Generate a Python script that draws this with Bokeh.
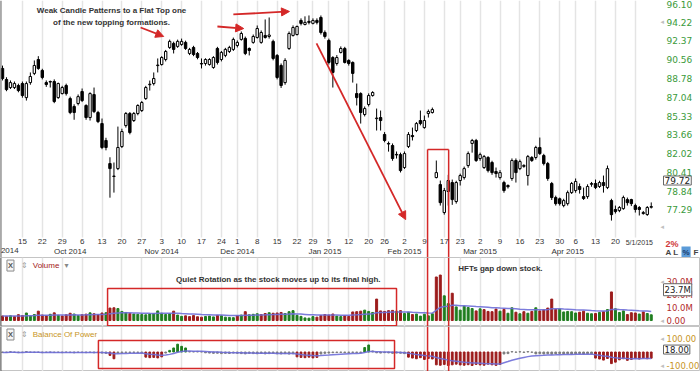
import pandas as pd
from bokeh.plotting import figure
from bokeh.layouts import column
from bokeh.models import (Range1d, FixedTicker, LinearAxis, Grid, NumeralTickFormatter,
                          Label, Arrow, NormalHead, BoxAnnotation, Span, ColumnDataSource)
from bokeh.embed import file_html
from bokeh.resources import INLINE

# ---------------- data (daily candles, trading-day index 0 = 8 Sep 2014 ... 163 = 1 May 2015)
open_ = [89.73, 88.69, 87.94, 87.94, 88.13, 88.31, 87.01, 88.40, 89.26, 90.58,
         89.54, 88.40, 88.50, 88.50, 87.01, 87.38, 88.13, 86.92, 86.20, 86.47,
         87.57, 86.29, 85.20, 87.29, 85.65, 84.66, 83.16, 81.16, 80.06, 80.73,
         82.63, 84.48, 85.56, 84.93, 85.56, 85.83, 86.92, 88.20, 88.31, 90.00,
         90.10, 90.58, 91.74, 92.13, 91.84, 92.03, 92.23, 91.16, 91.74, 91.16,
         90.20, 90.20, 90.10, 89.82, 91.64, 90.58, 90.97, 91.35, 91.55, 91.93,
         92.52, 92.62, 91.64, 92.23, 92.71, 92.23, 92.91, 92.81, 92.33, 90.97,
         90.01, 88.40, 91.64, 92.91, 93.00, 94.39, 93.99, 94.30, 94.10, 94.39,
         94.69, 93.20, 92.42, 90.77, 90.20, 91.26, 91.64, 90.49, 90.30, 87.38,
         87.38, 85.47, 86.38, 87.20, 85.10, 85.20, 83.69, 82.90, 82.72, 81.95,
         81.93, 80.82, 82.63, 83.60, 84.04, 84.93, 84.30, 85.56, 85.65, 79.97,
         79.38, 77.07, 78.80, 79.55, 77.97, 79.72, 79.97, 80.99, 82.90, 83.16,
         81.59, 80.82, 81.68, 81.25, 80.48, 79.97, 79.55, 79.30, 79.89, 81.42,
         80.73, 80.92, 80.14, 81.68, 81.68, 82.55, 81.85, 81.16, 79.47, 78.30,
         78.20, 77.64, 77.80, 78.71, 78.88, 79.22, 78.38, 78.38, 79.40, 79.47,
         79.22, 79.55, 79.13, 78.05, 77.32, 77.23, 77.39, 78.13, 78.13, 77.64,
         77.48, 76.99, 76.91, 77.50]
high_ = [90.00, 88.90, 88.60, 88.50, 88.30, 88.50, 88.50, 89.35, 90.49, 90.90,
         89.70, 88.60, 88.59, 88.70, 88.40, 88.10, 88.30, 87.10, 86.40, 87.30,
         87.85, 86.40, 87.50, 87.94, 85.80, 85.11, 83.40, 81.70, 81.25, 84.39,
         84.20, 85.70, 85.70, 85.70, 86.40, 86.70, 88.10, 88.59, 89.35, 90.68,
         90.90, 91.50, 92.50, 92.30, 92.50, 92.60, 92.40, 91.70, 91.90, 91.30,
         90.68, 90.70, 90.70, 90.90, 91.80, 91.40, 91.70, 91.90, 92.70, 92.42,
         93.30, 92.80, 91.74, 93.00, 93.89, 93.40, 94.49, 94.69, 92.50, 91.10,
         90.20, 90.70, 93.30, 93.90, 93.89, 94.60, 94.80, 94.89, 94.60, 94.60,
         94.89, 93.40, 92.60, 90.90, 91.00, 91.84, 91.80, 90.60, 90.40, 88.31,
         87.50, 86.20, 87.40, 87.60, 86.01, 85.83, 83.90, 83.07, 82.90, 82.20,
         82.10, 82.20, 83.90, 84.30, 84.80, 85.83, 85.38, 85.92, 86.10, 81.42,
         79.72, 79.10, 80.20, 79.80, 79.70, 80.30, 80.90, 82.20, 83.30, 83.30,
         82.10, 81.90, 81.80, 81.40, 80.82, 80.60, 79.70, 79.40, 81.60, 81.60,
         81.50, 81.10, 81.90, 81.80, 82.70, 83.42, 82.00, 81.30, 79.60, 78.46,
         78.30, 78.20, 78.88, 79.60, 79.89, 79.47, 79.13, 79.40, 79.60, 79.80,
         79.70, 80.14, 80.99, 78.20, 77.64, 77.60, 78.46, 78.30, 78.20, 77.80,
         77.60, 77.20, 77.60, 77.90]
low_ = [88.60, 87.60, 87.80, 87.80, 87.50, 87.00, 86.74, 88.20, 89.10, 89.60,
        88.70, 88.00, 87.94, 86.50, 86.90, 87.30, 87.20, 85.50, 85.00, 86.30,
        86.60, 85.00, 84.93, 85.60, 84.70, 82.40, 82.30, 78.29, 78.71, 80.60,
        82.50, 84.30, 83.70, 84.80, 85.40, 85.70, 86.80, 87.66, 88.13, 89.35,
        90.00, 90.40, 91.60, 91.16, 91.70, 91.90, 91.50, 91.00, 90.90, 90.60,
        89.73, 90.00, 90.00, 89.70, 90.10, 90.40, 90.80, 91.20, 91.40, 91.74,
        92.40, 91.00, 90.97, 92.10, 92.60, 92.10, 92.60, 92.60, 90.50, 88.70,
        87.90, 88.20, 91.50, 92.80, 92.90, 93.90, 93.90, 94.00, 94.00, 94.00,
        93.00, 92.60, 90.10, 87.94, 90.00, 91.16, 90.20, 90.00, 88.40, 86.29,
        84.66, 85.30, 86.20, 87.10, 84.04, 84.04, 83.00, 82.19, 81.40, 81.59,
        80.40, 80.70, 82.50, 83.16, 83.90, 84.50, 84.20, 85.20, 85.56, 79.90,
        77.64, 76.90, 77.64, 77.70, 77.80, 79.30, 79.80, 80.80, 82.10, 81.30,
        81.40, 80.70, 80.40, 80.20, 79.97, 79.80, 78.70, 79.05, 79.70, 79.55,
        80.60, 80.80, 79.30, 81.30, 81.50, 81.90, 81.00, 79.70, 78.10, 77.64,
        77.64, 77.50, 77.64, 78.60, 78.70, 78.63, 78.10, 78.20, 79.20, 79.00,
        79.10, 78.71, 79.00, 76.42, 76.99, 77.10, 77.30, 77.64, 77.60, 77.07,
        76.83, 76.90, 76.80, 77.40]
close_ = [88.78, 87.75, 88.40, 88.31, 87.66, 87.20, 88.31, 88.97, 90.01, 89.73,
          88.88, 88.22, 88.45, 86.65, 88.31, 87.94, 87.38, 85.65, 85.65, 87.10,
          86.74, 85.20, 87.38, 85.74, 84.84, 82.55, 82.55, 80.73, 80.10, 82.55,
          83.95, 85.56, 83.86, 85.56, 86.29, 86.56, 87.94, 88.25, 88.78, 90.05,
          90.77, 91.35, 92.33, 91.55, 92.33, 92.33, 91.64, 91.55, 91.06, 90.77,
          90.15, 90.58, 90.58, 90.77, 90.30, 91.26, 91.55, 91.74, 92.52, 92.23,
          93.10, 91.16, 91.45, 92.81, 93.59, 93.20, 92.71, 92.95, 90.68, 88.88,
          88.13, 90.49, 93.10, 93.69, 93.79, 94.10, 94.20, 94.20, 94.39, 94.20,
          93.20, 92.81, 90.30, 89.35, 90.77, 91.64, 90.30, 90.20, 89.26, 87.01,
          85.65, 86.01, 87.20, 87.48, 85.15, 84.93, 83.16, 82.85, 81.59, 81.90,
          80.56, 82.02, 83.69, 83.50, 84.66, 84.66, 84.93, 85.74, 85.92, 80.39,
          77.88, 78.88, 79.72, 78.13, 79.55, 80.14, 80.73, 82.02, 83.16, 81.42,
          81.93, 81.76, 80.56, 80.39, 80.31, 80.39, 78.88, 79.20, 81.42, 80.39,
          81.33, 81.00, 81.76, 81.42, 82.55, 82.02, 81.16, 79.89, 78.30, 77.80,
          77.80, 78.05, 78.71, 79.47, 79.64, 78.97, 78.22, 79.22, 79.47, 79.13,
          79.55, 79.30, 80.73, 76.90, 77.15, 77.48, 78.30, 77.88, 77.80, 77.32,
          77.32, 77.07, 77.48, 77.56]
volume_m = [3.5, 3.2, 3.6, 3.0, 4.5, 3.8, 5.8, 3.5, 4.6, 7.2,
            4.2, 3.6, 4.8, 5.9, 4.0, 3.5, 4.4, 5.6, 5.0, 3.8,
            4.5, 4.9, 5.9, 5.2, 4.6, 5.8, 6.0, 9.6, 9.8, 9.2,
            7.0, 6.2, 5.5, 5.0, 4.8, 4.6, 4.4, 5.0, 5.4, 7.4,
            5.6, 4.6, 5.2, 7.2, 4.2, 3.2, 3.6, 3.0, 3.8, 2.9,
            2.6, 3.1, 3.4, 2.8, 4.0, 3.6, 2.6, 2.4, 2.2, 3.8,
            4.2, 6.8, 4.4, 4.8, 5.2, 4.6, 5.4, 6.0, 5.6, 5.8,
            6.2, 5.4, 6.8, 7.6, 4.0, 3.2, 2.0, 1.8, 3.0, 2.6,
            3.8, 4.6, 4.2, 5.0, 3.4, 3.0, 3.6, 3.2, 6.6, 6.8,
            7.2, 8.0, 7.0, 6.2, 16.5, 7.4, 7.0, 7.6, 7.8, 7.2,
            7.6, 5.4, 6.4, 4.6, 5.0, 3.4, 4.8, 3.6, 5.2, 33.5,
            35.0, 19.0, 13.0, 21.0, 10.5, 8.0, 11.0, 10.0, 9.2, 7.4,
            9.0, 8.4, 7.0, 6.8, 8.8, 7.2, 8.6, 5.6, 9.8, 6.4,
            5.2, 6.8, 5.6, 7.0, 9.8, 7.4, 8.2, 9.6, 16.5, 8.6,
            8.8, 6.6, 7.0, 6.8, 5.8, 6.4, 7.2, 5.6, 5.2, 5.4,
            6.2, 6.8, 8.4, 22.0, 9.0, 6.2, 7.4, 4.6, 6.0, 5.8,
            5.0, 6.6, 5.4, 4.4]
bop = [-3, -4, 2, -3, -5, -4, 3, -2, -4, -3,
       -5, -3, -2, -4, -3, -5, -2, -4, -6, -3,
       -4, -5, -3, -6, -4, -8, -10, -25, -50, -8,
       -6, -4, -5, -3, -4, -6, -38, -42, -40, -44,
       -36, -8, 12, 30, 58, 42, 30, 4, 3, 5,
       2, -6, -8, -10, -9, -12, -10, -11, -8, -10,
       -12, -14, -10, -12, -13, -11, -14, -12, -10, -13,
       -14, -12, -15, -13, -36, -40, -42, -38, -44, -40,
       -15, -10, -8, -5, -4, -3, -5, -4, -3, -4,
       -5, 33, 52, 8, -6, -8, -5, -7, -10, -8,
       -9, -12, -38, -45, -50, -42, -55, -48, -52, -95,
       -98, -92, -100, -95, -90, -96, -98, -94, -100, -92,
       -96, -98, -90, -95, -99, -92, -15, -12, 3, -2,
       2, -3, 3, -2, -14, -12, -15, -13, -16, -14,
       -12, -15, -13, -16, -14, -12, -15, -13, -14, -45,
       -52, -60, -48, -86, -75, -58, -50, -62, -55, -48,
       -52, -45, -50, -46]

# week starts (trading-day index) and their day-of-month labels
week_tick_idx = [5, 10, 15, 20, 25, 30, 35, 40, 45, 50, 55, 59, 64, 69, 74, 78, 82, 87, 92,
                 96, 101, 106, 111, 115, 120, 125, 130, 135, 140, 144, 149, 154, 159]
week_tick_lbl = ["15", "22", "29", "6", "13", "20", "27", "3", "10", "17", "24", "1", "8", "15",
                 "22", "29", "5", "12", "20", "26", "2", "9", "17", "23", "2", "9", "16", "23",
                 "30", "6", "13", "20", ""]
last_date_idx = [160]
last_date_lbl = ["5/1/2015"]
month_tick_idx = [17, 40, 59, 81, 101, 120, 142]
month_tick_lbl = ["Oct 2014", "Nov 2014", "Dec 2014", "Jan 2015", "Feb 2015", "Mar 2015", "Apr 2015"]
price_ticks = [77.29, 78.84, 80.41, 82.02, 83.66, 85.33, 87.04, 88.78, 90.56, 92.37, 94.22, 96.10]
vol_ticks = [0, 10, 20, 30]
vol_tick_lbl = ["0.00", "10.0M", "20.0M", "30.0M"]
bop_ticks = [-100, 100]
bop_tick_lbl = ["-100.00", "100.00"]
last_price, last_volume, last_bop = 79.72, 23.7, 18.00

# ---------------- geometry / styling
W = 700
H1, H2, H3 = 257, 69, 45
PX_PER_DAY = 3.98


def px2x(px):
    return (px - 2.0) / PX_PER_DAY


X_START, X_END = px2x(0), px2x(W)
AX_X = px2x(660)             # where the right-hand value axes sit
RED = "#d42828"
VRED = "#9c1c1c"
VGREEN = "#1f7d1f"
BLUE = "#6e6ed8"
GREEN_TXT = "#3a9a3a"
FONT = "Liberation Sans"

n = len(close_)
idx = list(range(n))
xr = Range1d(X_START, X_END)


def style_axis(ax, size, color, font="DejaVu Sans", standoff=6):
    ax.axis_line_color = None
    ax.major_tick_line_color = None
    ax.minor_tick_line_color = None
    ax.major_tick_out = 0
    ax.major_tick_in = 0
    ax.minor_tick_out = 0
    ax.minor_tick_in = 0
    ax.major_label_standoff = standoff
    ax.major_label_text_font = font
    ax.major_label_text_font_size = size
    ax.major_label_text_color = color


def marker(f, yv):
    f.add_layout(Label(x=px2x(660), y=yv, text="\u25c2", text_align="left",
                       text_baseline="middle", text_font="DejaVu Sans",
                       text_font_size="7px", text_color="#c0c0c0"))


def base(height, yr, cross=None, **kw):
    f = figure(width=W, height=height, x_range=xr, y_range=yr, y_axis_location="right",
               x_axis_location=None, output_backend="svg", toolbar_location=None,
               min_border_left=0, min_border_right=0, min_border_top=0, min_border_bottom=0,
               background_fill_color="white", border_fill_color="white", **kw)
    f.xgrid.visible = False
    f.ygrid.visible = False
    g = Grid(dimension=0, ticker=FixedTicker(ticks=week_tick_idx),
             grid_line_color="#e4e4e4", grid_line_width=1.5)
    if cross is not None:
        g.cross_bounds = cross
    f.add_layout(g)
    f.yaxis.fixed_location = AX_X
    f.add_layout(Span(location=X_START + 0.05, dimension="height", line_color="#555555",
                      line_width=1.5))
    return f


# ---------------- price panel
P_TOP, P_BOTTOM = 96.40, 73.50
P_BOTTOM_DATA = 75.06      # bottom of the candle area
p = base(H1, Range1d(P_BOTTOM, P_TOP), cross=(P_BOTTOM_DATA, P_TOP), y_axis_type="log")
p.outline_line_color = None
p.yaxis.ticker = FixedTicker(ticks=price_ticks, minor_ticks=[])
p.yaxis.formatter = NumeralTickFormatter(format="0.00")
style_axis(p.yaxis[0], "9px", GREEN_TXT)

for ticks, lbls, loc, size in ((week_tick_idx, week_tick_lbl, P_BOTTOM_DATA, "8px"),
                               (last_date_idx, last_date_lbl, P_BOTTOM_DATA, "7px"),
                               (month_tick_idx, month_tick_lbl, 74.40, "8px")):
    a = LinearAxis(ticker=FixedTicker(ticks=ticks, minor_ticks=[]),
                   major_label_overrides={t: s for t, s in zip(ticks, lbls)},
                   fixed_location=loc)
    style_axis(a, size, "#333333", font=FONT, standoff=1)
    p.add_layout(a, "below")

up = [c >= o for o, c in zip(open_, close_)]
src = ColumnDataSource(dict(
    x=idx, h=high_, l=low_,
    top=[max(o, c) for o, c in zip(open_, close_)],
    bot=[min(o, c) for o, c in zip(open_, close_)],
    fill=["white" if u else "black" for u in up]))
p.segment(x0="x", y0="h", x1="x", y1="l", source=src, line_color="black", line_width=1)
p.vbar(x="x", width=0.6, top="top", bottom="bot", fill_color="fill", line_color="black",
       line_width=1, source=src)

# annotations on price panel
for txt, yv in (("Weak Candle Patterns to a Flat Top one", 95.39),
                ("of the new topping formations.", 94.20)):
    p.add_layout(Label(x=27.4, y=yv, text=txt, text_align="center", text_baseline="middle",
                       text_font=FONT, text_font_style="bold", text_font_size="8px",
                       text_color="#333333"))
for xs, ys, xe, ye in ((34.7, 93.69, 40.5, 92.81), (54.0, 93.79, 60.6, 93.59),
                       (58.0, 94.99, 72.1, 95.29), (78.9, 92.13, 101.3, 76.50)):
    p.add_layout(Arrow(end=NormalHead(size=8, fill_color=RED, line_color=RED),
                       x_start=xs, y_start=ys, x_end=xe, y_end=ye,
                       line_color=RED, line_width=1.8))
p.segment(x0=[106.8, 112.1, 106.8], y0=[82.37, 82.37, 82.37],
          x1=[106.8, 112.1, 112.1], y1=[P_BOTTOM, P_BOTTOM, 82.37], line_color=RED, line_width=1.5)

p.add_layout(Label(x=px2x(663), y=last_price, text=f"{last_price:.2f}",
                   text_baseline="middle", text_font="DejaVu Sans", text_font_size="9px",
                   text_color="#222222", border_line_color="#666666",
                   background_fill_color="white", padding=1))
marker(p, 94.22)
marker(p, 75.90)
p.add_layout(Label(x=X_START + 0.1, y=74.05, text="2014", text_align="left", text_baseline="middle",
                   text_font=FONT, text_font_size="8px", text_color="#333333"))
p.add_layout(Label(x=px2x(665), y=74.52, text="2%", text_baseline="middle",
                   text_font=FONT, text_font_style="bold", text_font_size="9px",
                   text_color="#d03a3a"))
p.add_layout(Label(x=px2x(665), y=73.92, text="A L", text_baseline="middle",
                   text_font=FONT, text_font_style="bold", text_font_size="8px",
                   text_color="#444444"))
p.add_layout(Label(x=px2x(681), y=73.92, text="%", text_baseline="middle",
                   text_font=FONT, text_font_style="bold", text_font_size="8px",
                   text_color="#1a3a6a", background_fill_color="#5b9bd8", padding=1))
p.add_layout(Label(x=px2x(693), y=73.92, text="F", text_baseline="middle",
                   text_font=FONT, text_font_style="bold", text_font_size="8px",
                   text_color="#444444"))

# ---------------- volume panel
V_LO, V_HI = -4.6, 48.5
pv = base(H2, Range1d(V_LO, V_HI))
pv.outline_line_color = "#c4c4c4"
pv.yaxis.ticker = FixedTicker(ticks=vol_ticks, minor_ticks=[])
pv.yaxis.major_label_overrides = {t: s for t, s in zip(vol_ticks, vol_tick_lbl)}
style_axis(pv.yaxis[0], "8.5px", "#b22a2a")
vcol = [VGREEN if (close_[i] >= (close_[i - 1] if i else open_[i])) else VRED for i in idx]
pv.vbar(x=idx, top=volume_m, bottom=0, width=0.5, fill_color=vcol, line_color=vcol)
vma = pd.Series(volume_m).ewm(span=24, adjust=False).mean().tolist()
pv.line(idx, vma, line_color=BLUE, line_width=1.5, line_alpha=0.9)
pv.add_layout(BoxAnnotation(left=26.4, right=99.0, top=24.6, bottom=-4.0, fill_color=None,
                            line_color=RED, line_width=1.5, line_alpha=1))
pv.segment(x0=[106.8, 112.1], y0=[V_LO, V_LO], x1=[106.8, 112.1], y1=[V_HI, V_HI],
           line_color=RED, line_width=1.5)
pv.add_layout(Label(x=69.3, y=31.5, text="Quiet Rotation as the stock moves up to its final high.",
                    text_align="center", text_baseline="middle", text_font=FONT,
                    text_font_style="bold", text_font_size="8px", text_color="#333333"))
pv.add_layout(Label(x=125.1, y=40.0, text="HFTs gap down stock.", text_align="center",
                    text_baseline="middle", text_font=FONT, text_font_style="bold",
                    text_font_size="8px", text_color="#333333"))
pv.add_layout(Label(x=px2x(663), y=last_volume, text=f"{last_volume:.1f}M",
                    text_baseline="middle", text_font="DejaVu Sans", text_font_size="8.5px",
                    text_color="#222222", border_line_color="#666666",
                    background_fill_color="white", padding=1))
marker(pv, 30)
marker(pv, 0)


def header(f, yv, name, color, extra=None):
    f.add_layout(Label(x=2.0, y=yv, text="X", text_align="center", text_baseline="middle",
                       text_font=FONT, text_font_style="bold", text_font_size="7.5px",
                       text_color="#555555", border_line_color="#8a8a8a",
                       background_fill_color="#f6f6f6", padding=1))
    f.add_layout(Label(x=5.5, y=yv, text="\u21d5", text_align="center", text_baseline="middle",
                       text_font="DejaVu Sans", text_font_size="8px", text_color="#999999"))
    f.add_layout(Label(x=7.6, y=yv, text=name, text_align="left", text_baseline="middle",
                       text_font=FONT, text_font_size="8px", text_color=color))
    if extra:
        f.add_layout(Label(x=extra, y=yv, text="\u25be", text_align="center",
                           text_baseline="middle", text_font="DejaVu Sans",
                           text_font_size="8px", text_color="#888888"))


header(pv, 42.3, "Volume", "#a32020", extra=16.1)

# ---------------- balance of power panel
B_LO, B_HI = -144.4, 188.9
pb = base(H3, Range1d(B_LO, B_HI))
pb.outline_line_color = "#c4c4c4"
pb.yaxis.ticker = FixedTicker(ticks=bop_ticks, minor_ticks=[])
pb.yaxis.major_label_overrides = {t: s for t, s in zip(bop_ticks, bop_tick_lbl)}
style_axis(pb.yaxis[0], "8.5px", "#c8961e")
bcol = [VGREEN if v > 8 else (VRED if v < -20 else "#7d7d7d") for v in bop]
pb.vbar(x=idx, top=bop, bottom=0, width=0.45, fill_color=bcol, line_color=bcol)
bma = pd.Series(bop).ewm(span=14, adjust=False).mean().tolist()
pb.line(idx, bma, line_color=BLUE, line_width=1.5, line_alpha=0.9)
pb.add_layout(BoxAnnotation(left=24.1, right=98.5, top=85, bottom=-122, fill_color=None,
                            line_color=RED, line_width=1.5, line_alpha=1))
pb.segment(x0=[106.8, 112.1], y0=[B_LO, B_LO], x1=[106.8, 112.1], y1=[B_HI, B_HI],
           line_color=RED, line_width=1.5)
header(pb, 129.6, "Balance Of Power", "#c8961e")
pb.add_layout(Label(x=px2x(663), y=last_bop, text=f"{last_bop:.2f}",
                    text_baseline="middle", text_font="DejaVu Sans", text_font_size="8.5px",
                    text_color="#222222", border_line_color="#666666",
                    background_fill_color="white", padding=1))
marker(pb, 100)
marker(pb, -100)

layout = column(p, pv, pb, spacing=0)
open("out.html", "w").write(file_html(layout, INLINE))
